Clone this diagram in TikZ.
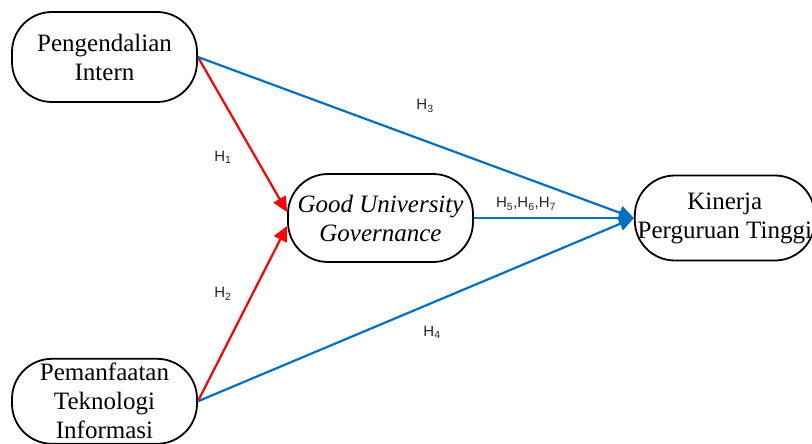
\documentclass[tikz,border=0pt]{standalone}
\usepackage{fontspec}
\setmainfont{Liberation Serif}
\setsansfont{Liberation Sans}
\usetikzlibrary{arrows.meta, positioning}
\definecolor{pathblue}{RGB}{0,112,192}

\begin{document}
\begin{tikzpicture}[
  x=1pt, y=-1pt, >={Triangle[length=15pt,width=14pt]},
  var/.style={draw, line width=1.8pt, rounded corners=40pt, align=center,
              minimum width=185pt, minimum height=88pt, inner sep=0pt,
              font=\fontsize{25}{29}\selectfont},
  redpath/.style={->, draw=red, line width=2.2pt},
  bluepath/.style={->, draw=pathblue, line width=2.2pt},
  hyp/.style={font=\sffamily\fontsize{15}{17}\selectfont, text=black!85}
]
\useasboundingbox (0,0) rectangle (812,444);

\node[var, minimum height=90pt] (pi) at (104.5,57) {Pengendalian\\Intern};
\node[var, minimum height=85pt, below=255pt of pi] (ti) {Pemanfaatan\\Teknologi\\Informasi};
\node[var, font=\fontsize{25}{29}\selectfont\itshape] (gug) at (380.5,218) {Good University\\Governance};
\node[var, minimum width=180pt, minimum height=85pt, right=160pt of gug] (kpt) {Kinerja\\Perguruan Tinggi};

% hypothesis labels
\node[hyp] (h1) at (223,157) {H\textsubscript{1}};
\node[hyp] (h2) at (223,294) {H\textsubscript{2}};
\node[hyp] (h3) at (425,106) {H\textsubscript{3}};
\node[hyp] (h4) at (432,332) {H\textsubscript{4}};
\node[hyp] (h567) at (526,204) {H\textsubscript{5},H\textsubscript{6},H\textsubscript{7}};

\draw[redpath] (pi.east) -- ([yshift=6pt]gug.west);
\draw[redpath] (ti.east) -- ([yshift=-8pt]gug.west);
\draw[bluepath] (pi.east) -- (kpt.west);
\draw[bluepath] (ti.east) -- (kpt.west);
\draw[bluepath] (gug.east) -- (kpt.west);
\end{tikzpicture}
\end{document}
